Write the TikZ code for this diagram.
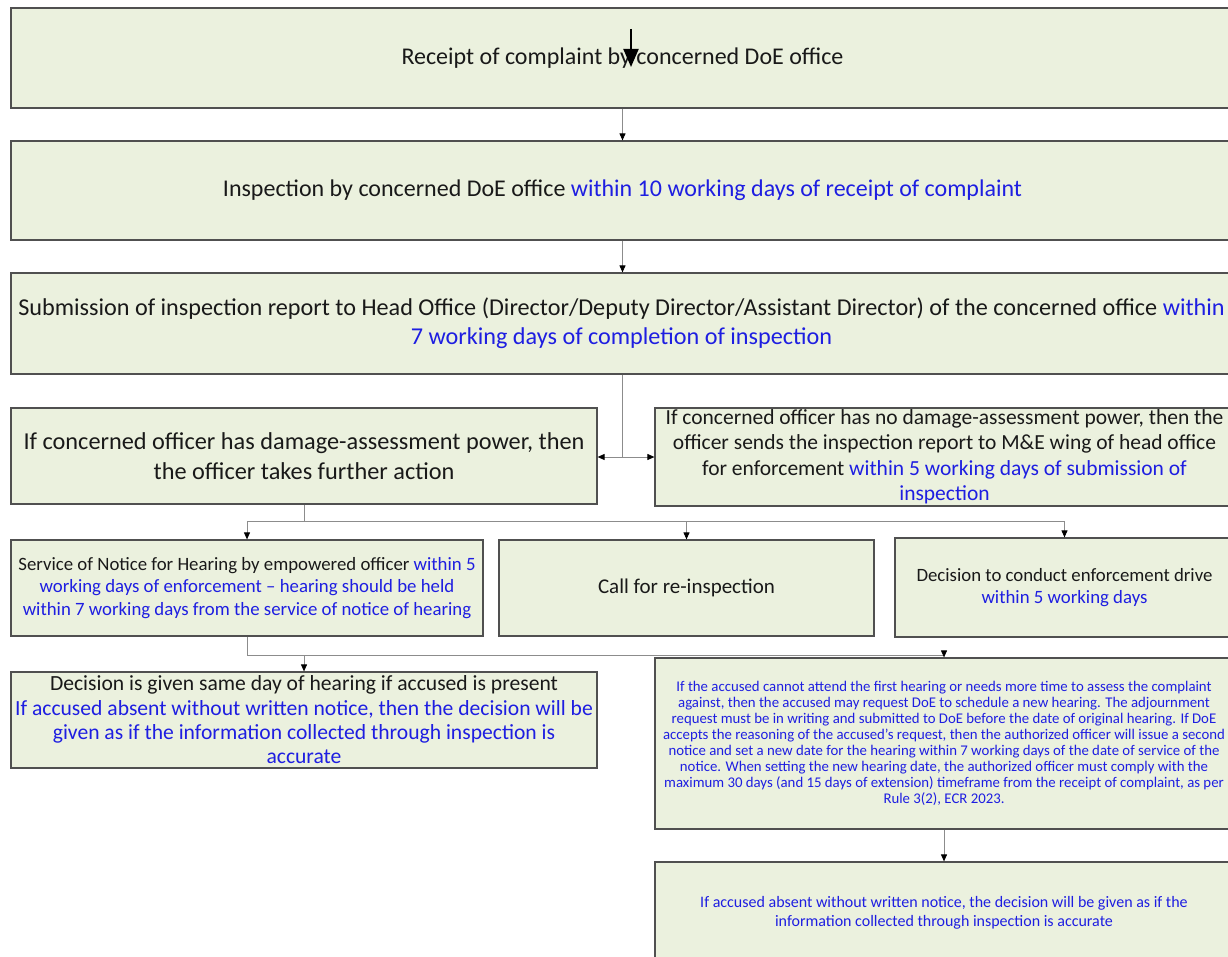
\documentclass[tikz,border=0pt]{standalone}
\usepackage{fontspec}
\setmainfont{Carlito}
\usetikzlibrary{arrows.meta}

\definecolor{boxfill}{RGB}{235,241,222}
\definecolor{boxline}{RGB}{80,80,80}
\definecolor{linkgray}{RGB}{140,140,140}
\definecolor{duetext}{RGB}{30,30,225}
\definecolor{plaintext}{RGB}{25,25,25}

% deadline phrases are printed in blue
\newcommand{\due}[1]{\textcolor{duetext}{#1}}
\newcommand{\fsz}[2]{\fontsize{#1}{#2}\selectfont}

\tikzset{
  stagebox/.style={draw=boxline, line width=1.2pt, fill=boxfill, inner sep=0pt,
                   align=center, text=plaintext},
  bluebox/.style={stagebox, text=duetext},
  link/.style={draw=linkgray, line width=0.9pt},
  linkarrow/.style={link, -{Triangle[length=7pt,width=6pt,color=black]}},
}

% \stage[options]{name}{x1}{y1}{x2}{y2}{text}: box given by its corners
\newcommand{\stage}[7][stagebox]{%
  \node[#1, minimum width={(#5)-(#3)}, minimum height={(#6)-(#4)}]
    (#2) at ({((#3)+(#5))/2},{((#4)+(#6))/2}) {#7};}

\begin{document}
\begin{tikzpicture}[x=1pt,y=-1pt]
\useasboundingbox (0,0) rectangle (1228,957);

% main chain
\stage[stagebox, font=\fsz{24}{29}]{receipt}{11}{8}{1234}{108}{Receipt of complaint by concerned DoE office}
\stage[stagebox, font=\fsz{24}{29}]{inspect}{11}{141}{1234}{240}{Inspection by concerned DoE office \due{within 10 working days of receipt of complaint}}
\stage[stagebox, font=\fsz{24.2}{29}]{report}{11}{273}{1232}{374}{Submission of inspection report to Head Office (Director/Deputy Director/Assistant Director) of the concerned office \due{within}\\
  \due{7 working days of completion of inspection}}

% split on damage-assessment power
\stage[stagebox, font=\fsz{24.3}{30}]{power}{11}{408}{597}{504}{If concerned officer has damage-assessment power, then\\
  the officer takes further action}
\stage[stagebox, font=\fsz{21.5}{25.5}]{nopower}{655}{408}{1234}{506}{If concerned officer has no damage-assessment power, then the\\
  officer sends the inspection report to M\&E wing of head office\\
  for enforcement \due{within 5 working days of submission of}\\
  \due{inspection}}

% follow-up actions
\stage[stagebox, font=\fsz{18.8}{22.5}]{notice}{11}{540}{483}{636}{Service of Notice for Hearing by empowered officer \due{within 5}\\
  \due{working days of enforcement -- hearing should be held}\\
  \due{within 7 working days from the service of notice of hearing}}
\stage[stagebox, font=\fsz{21}{24}]{reinspect}{499}{540}{874}{636}{Call for re-inspection}
\stage[stagebox, font=\fsz{18.8}{22}]{drive}{895}{538}{1234}{637}{Decision to conduct enforcement drive\\
  \due{within 5 working days}}

% hearing outcomes
\stage[stagebox, font=\fsz{21.6}{24.3}]{decision}{11}{672}{597}{768}{Decision is given same day of hearing if accused is present\\
  \due{If accused absent without written notice, then the decision will be}\\
  \due{given as if the information collected through inspection is}\\
  \due{accurate}}
\stage[bluebox, font=\fsz{14.8}{16}]{adjourn}{655}{658}{1233}{829}{%
  If the accused cannot attend the first hearing or needs more time to assess the complaint\\
  against, then the accused may request DoE to schedule a new hearing. The adjournment\\
  request must be in writing and submitted to DoE before the date of original hearing. If DoE\\
  accepts the reasoning of the accused’s request, then the authorized officer will issue a second\\
  notice and set a new date for the hearing within 7 working days of the date of service of the\\
  notice. When setting the new hearing date, the authorized officer must comply with the\\
  maximum 30 days (and 15 days of extension) timeframe from the receipt of complaint, as per\\
  Rule 3(2), ECR 2023.}
\stage[bluebox, font=\fsz{16}{19}]{absent}{655}{862}{1233}{963}{%
  If accused absent without written notice, the decision will be given as if the\\
  information collected through inspection is accurate}

% connectors
\draw[linkarrow] (receipt.south) -- (receipt.south |- inspect.north);
\draw[linkarrow] (inspect.south) -- (inspect.south |- report.north);

\coordinate (split) at (622,457);
\draw[link] (split |- report.south) -- (split);
\draw[linkarrow] (split) -- (power.east |- split);
\draw[linkarrow] (split) -- (nopower.west |- split);

\coordinate (fan) at (304,521);
\draw[link] (power.south) -- (fan);
\draw[link] (notice.north |- fan) -- (drive.north |- fan);
\draw[linkarrow] (notice.north |- fan) -- (notice.north);
\draw[linkarrow] (reinspect.north |- fan) -- (reinspect.north);
\draw[linkarrow] (drive.north |- fan) -- (drive.north);

\coordinate (hear) at (247,655);
\draw[link] (notice.south) -- (hear);
\draw[link] (hear) -- (adjourn.north |- hear);
\draw[linkarrow] (decision.north |- hear) -- (decision.north);
\draw[linkarrow] (adjourn.north |- hear) -- (adjourn.north);

\draw[linkarrow] (adjourn.south) -- (absent.north);

% heavy drop arrow over the first box
\coordinate (dropTop) at (631,29);
\coordinate (dropTip) at (631,67);
\draw[line width=2pt, -{Triangle[length=18pt,width=15pt]}] (dropTop) -- (dropTip);
\end{tikzpicture}
\end{document}
